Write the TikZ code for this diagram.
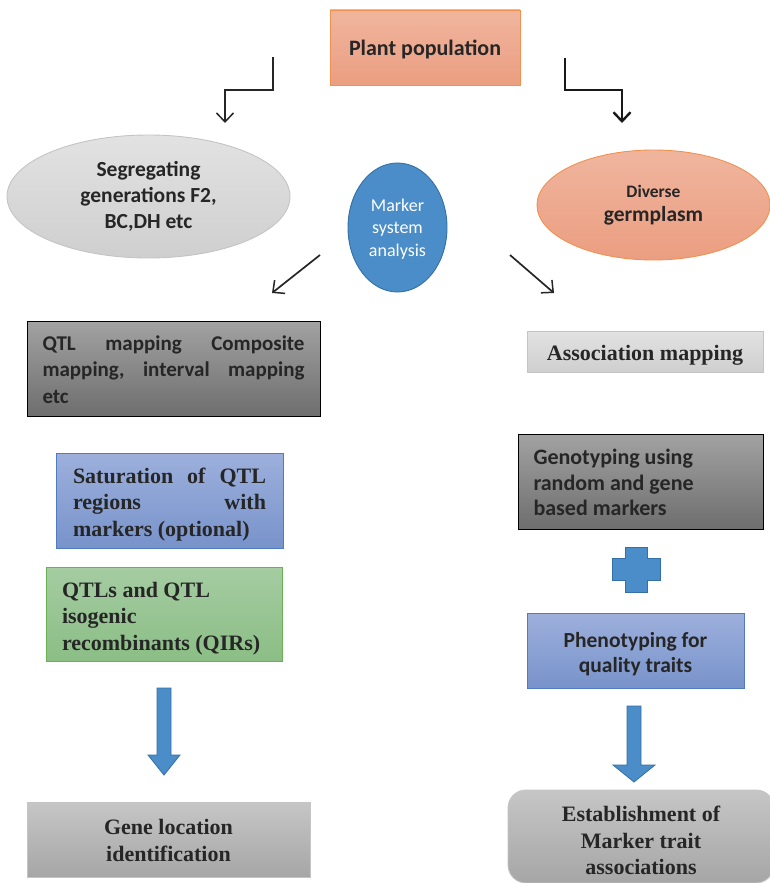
\documentclass[tikz,border=0pt]{standalone}
\usepackage{fontspec}
\setmainfont{Carlito}
\newfontfamily\tnr{Liberation Serif}
\usetikzlibrary{shapes.geometric,arrows.meta}

\definecolor{salmonT}{HTML}{F0B59E}
\definecolor{salmonB}{HTML}{EB9E81}
\definecolor{salmonL}{HTML}{F2914F}
\definecolor{greyT}{HTML}{E2E2E2}
\definecolor{greyB}{HTML}{CFCFCF}
\definecolor{greyL}{HTML}{C4C4C4}
\definecolor{darkT}{HTML}{A2A2A2}
\definecolor{darkB}{HTML}{6E6E6E}
\definecolor{blueT}{HTML}{9DB0DC}
\definecolor{blueB}{HTML}{7893CB}
\definecolor{blueL}{HTML}{4F7BC0}
\definecolor{greenT}{HTML}{A5CCA2}
\definecolor{greenB}{HTML}{8BBE85}
\definecolor{greenL}{HTML}{6AB055}
\definecolor{midT}{HTML}{C6C6C6}
\definecolor{midB}{HTML}{A6A6A6}
\definecolor{solidblue}{HTML}{4A8DC8}
\definecolor{solidblueL}{HTML}{3270A5}
\definecolor{ink}{HTML}{262626}

\tikzset{
  box/.style={rectangle, inner sep=0pt, text=ink, line width=0.9pt},
  salmonbox/.style={box, top color=salmonT, bottom color=salmonB, draw=salmonL},
  lightbox/.style={box, top color=greyT, bottom color=greyB, draw=greyL},
  darkbox/.style={box, top color=darkT, bottom color=darkB, draw=black},
  bluebox/.style={box, top color=blueT, bottom color=blueB, draw=blueL},
  greenbox/.style={box, top color=greenT, bottom color=greenB, draw=greenL},
  midbox/.style={box, top color=midT, bottom color=midB, draw=greyL},
  oval/.style={ellipse, inner sep=0pt, text=ink, line width=0.9pt},
  thinarrow/.style={line width=1.7pt, draw=ink, -{Straight Barb[length=9pt,width=17pt,line width=1.5pt]}},
  thickarrow/.style={line width=2.4pt, draw=black!90, -{Straight Barb[length=9pt,width=17pt,line width=2.4pt]}},
  blockarrow/.style={fill=solidblue, draw=solidblueL, line width=0.8pt, line join=miter},
}
% serif bold text block: width, drop from centre, lines
\newcommand{\serifblock}[3]{\begin{minipage}{#1}\vspace*{#2}\tnr\bfseries\fontsize{22}{26.5}\selectfont #3\end{minipage}}

\begin{document}
\begin{tikzpicture}[x=1pt,y=-1pt]
\useasboundingbox (0,0) rectangle (770,883);

% top source
\node[salmonbox, minimum width=190pt, minimum height=75pt] (plant) at (425,47.5)
  {\begin{minipage}{180pt}\vspace*{4pt}\centering\bfseries\fontsize{22}{26}\selectfont Plant population\end{minipage}};

% three ovals
\node[oval, minimum width=283pt, minimum height=123pt,
      top color=greyT, bottom color=greyB, draw=greyL] (seg) at (148.5,196.5)
  {\begin{minipage}{170pt}\centering\bfseries\fontsize{21.5}{26}\selectfont
   Segregating\\generations F2,\\BC,DH etc\end{minipage}};
\node[oval, minimum width=99pt, minimum height=129pt,
      fill=solidblue, draw=solidblueL, text=white] (marker) at (397.5,227.5)
  {\begin{minipage}{62pt}\vspace*{3pt}\centering\fontsize{18}{22.5}\selectfont
   Marker\\system\\analysis\end{minipage}};
\node[oval, minimum width=233pt, minimum height=110pt,
      top color=salmonT, bottom color=salmonB, draw=salmonL] (diverse) at (653.5,205)
  {\begin{minipage}{150pt}\centering\bfseries
   \fontsize{17.5}{24}\selectfont Diverse\par
   \fontsize{21.5}{24}\selectfont germplasm\end{minipage}};

% elbow connectors from the source
\coordinate (l0) at (273,57);
\coordinate (l1) at (225,123);
\coordinate (r0) at (565,58);
\coordinate (r1) at (622,123);
\draw[thinarrow, line width=1.4pt] (l0) -- (l0 |- 0,90) -- (l1 |- 0,90) -- (l1);
\draw[thickarrow, line join=miter] (r0) -- (r0 |- 0,90) -- (r1 |- 0,90) -- (r1);

% diagonal connectors
\coordinate (dl0) at (320,255);
\coordinate (dl1) at (272,293);
\coordinate (dr0) at (510,255);
\coordinate (dr1) at (554,293);
\draw[thinarrow] (dl0) -- (dl1);
\draw[thinarrow] (dr0) -- (dr1);

% left column
\node[darkbox, minimum width=293pt, minimum height=95pt] (qtlmap) at (173.5,368.5)
  {\begin{minipage}{262pt}\vspace*{2pt}\bfseries\fontsize{21}{26.5}\selectfont
   QTL\hfill mapping\hfill Composite\\ mapping,\hfill interval\hfill mapping\\ etc\end{minipage}};
\node[bluebox, minimum width=227pt, minimum height=95pt] (sat) at (169.5,500.5)
  {\serifblock{193pt}{8pt}{Saturation\hfill of\hfill QTL\\ regions\hfill with\\ markers (optional)}};
\node[greenbox, minimum width=236pt, minimum height=94pt] (qtls) at (164,614)
  {\serifblock{204pt}{9pt}{QTLs and QTL\\ isogenic\\ recombinants (QIRs)}};
\node[midbox, minimum width=283pt, minimum height=75pt] (gene) at (168.5,839.5)
  {\serifblock{250pt}{2pt}{\centering Gene location\\identification}};

% right column
\node[lightbox, minimum width=236pt, minimum height=41pt] (assoc) at (645,351.5)
  {\serifblock{230pt}{7pt}{\centering Association mapping}};
\node[darkbox, minimum width=245pt, minimum height=95pt] (geno) at (640.5,481.5)
  {\begin{minipage}{214pt}\vspace*{2pt}\bfseries\fontsize{22}{25.5}\selectfont
   Genotyping using\\ random and gene\\ based markers\end{minipage}};
\node[bluebox, minimum width=217pt, minimum height=75pt] (pheno) at (635.5,650.5)
  {\begin{minipage}{200pt}\vspace*{7pt}\centering\bfseries\fontsize{21.5}{25}\selectfont
   Phenotyping for\\quality traits\end{minipage}};
\node[midbox, rounded corners=18pt, minimum width=266pt, minimum height=93pt] (estab) at (641,836.5)
  {\serifblock{240pt}{8pt}{\centering Establishment of\\Marker trait\\associations}};

% plus sign between genotyping and phenotyping
\coordinate (pc) at (636,569.5);
\draw[blockarrow] ([shift={(-11,-22.5)}]pc) -- ([shift={(11,-22.5)}]pc) -- ([shift={(11,-11)}]pc)
  -- ([shift={(24,-11)}]pc) -- ([shift={(24,11)}]pc) -- ([shift={(11,11)}]pc)
  -- ([shift={(11,22.5)}]pc) -- ([shift={(-11,22.5)}]pc) -- ([shift={(-11,11)}]pc)
  -- ([shift={(-24,11)}]pc) -- ([shift={(-24,-11)}]pc) -- ([shift={(-11,-11)}]pc) -- cycle;

% block arrows down to the results
\coordinate (la) at (164,688);
\draw[blockarrow] ([xshift=-7pt]la) -- ([xshift=7pt]la) -- ([shift={(7,67)}]la) -- ([shift={(16,67)}]la)
  -- ([shift={(0,87)}]la) -- ([shift={(-16,67)}]la) -- ([shift={(-7,67)}]la) -- cycle;
\coordinate (ra) at (634,706);
\draw[blockarrow] ([xshift=-7pt]ra) -- ([xshift=7pt]ra) -- ([shift={(7,59)}]ra) -- ([shift={(21,59)}]ra)
  -- ([shift={(0,76)}]ra) -- ([shift={(-21,59)}]ra) -- ([shift={(-7,59)}]ra) -- cycle;
\end{tikzpicture}
\end{document}
